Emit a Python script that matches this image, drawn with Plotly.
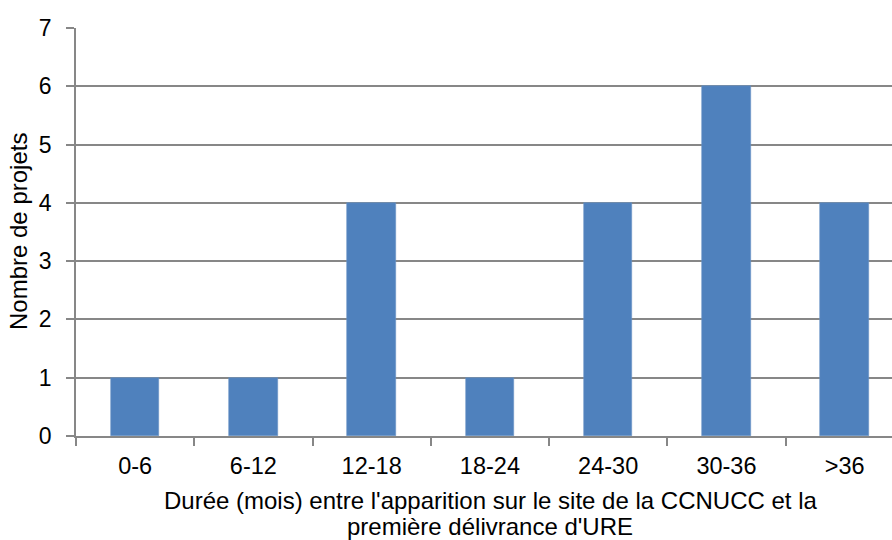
import plotly.graph_objects as go

categories = ["0-6", "6-12", "12-18", "18-24", "24-30", "30-36", ">36"]
projects = [1, 1, 4, 1, 4, 6, 4]
y_ticks = [0, 1, 2, 3, 4, 5, 6, 7]
x_title_lines = ["Durée (mois) entre l'apparition sur le site de la CCNUCC et la",
                 "première délivrance d'URE"]
y_title = "Nombre de projets"

FONT = "Liberation Sans, Arial, sans-serif"
GRID = "#878787"

fig = go.Figure()
fig.add_trace(go.Bar(
    x=categories, y=projects, width=0.41,
    marker=dict(color="#4F81BD", line=dict(color="#6a93c6", width=0.6)),
))

fig.update_layout(
    width=892, height=540,
    margin=dict(l=76, r=0, t=28, b=104),
    paper_bgcolor="white", plot_bgcolor="white",
    showlegend=False,
    font=dict(family=FONT, size=23, color="#000000"),
    bargap=0,
)
fig.update_xaxes(
    type="category", categoryorder="array", categoryarray=categories,
    range=[-0.5, 6.4],
    tickson="boundaries",
    showgrid=False, zeroline=False,
    showline=True, linecolor=GRID, linewidth=1.5,
    ticks="outside", ticklen=8, tickcolor=GRID, tickwidth=1.5,
    tickfont=dict(size=23.5, family=FONT, color="#000"),
    ticklabelstandoff=8,
)
fig.update_yaxes(
    range=[0, 7], tickvals=y_ticks,
    showgrid=True, gridcolor=GRID, gridwidth=1.5,
    zeroline=False,
    showline=True, linecolor=GRID, linewidth=1.5,
    ticks="outside", ticklen=8, tickcolor=GRID, tickwidth=1.5,
    tickfont=dict(size=23, family=FONT, color="#000"),
    ticklabelstandoff=10,
)
# x-axis title, two centred lines
for line, ypx in zip(x_title_lines, [501, 526]):
    fig.add_annotation(
        text=line, xref="paper", yref="paper",
        x=(490 - 76) / 816, y=(436 - ypx) / 408,
        xanchor="center", yanchor="middle", showarrow=False,
        font=dict(size=24, family=FONT, color="#000"),
    )
fig.add_annotation(
    text=y_title, xref="paper", yref="paper",
    x=(18 - 76) / 816, y=0.5, textangle=-90,
    xanchor="center", yanchor="middle", showarrow=False,
    font=dict(size=24, family=FONT, color="#000"),
)

fig.write_html("out.html", config={"displayModeBar": False},
               post_script="document.body.style.margin='0';document.body.style.padding='0';")
